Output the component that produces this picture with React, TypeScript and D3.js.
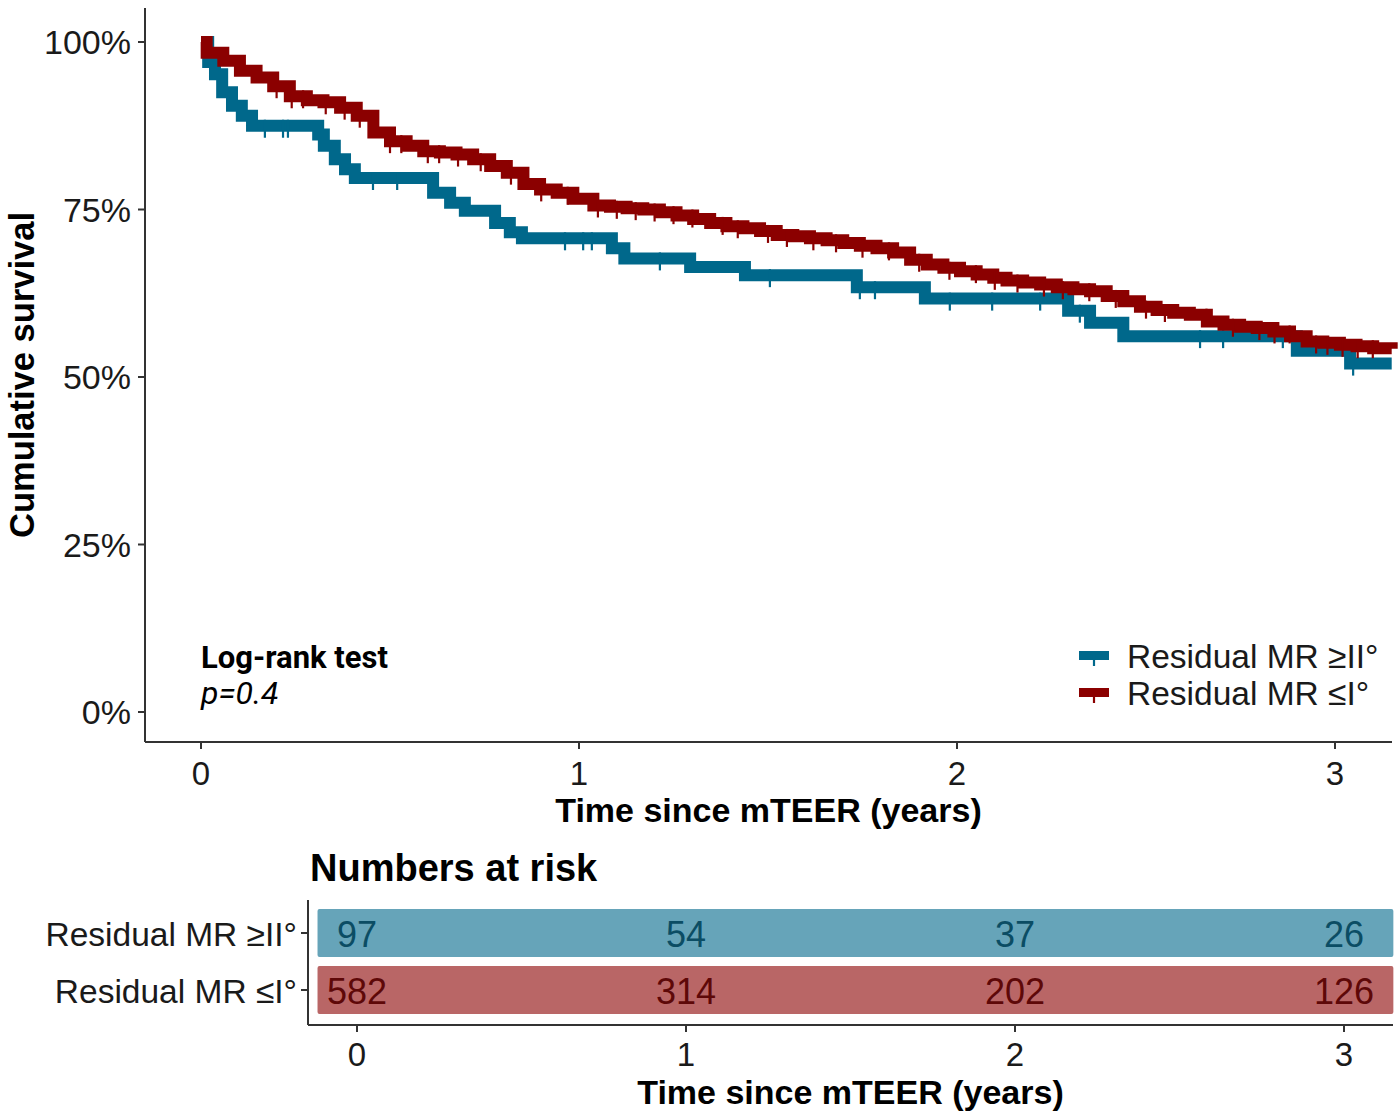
import * as React from "react";
import * as d3 from "d3";

const groups = ["Residual MR ≥II°", "Residual MR ≤I°"];
const colors = ["#00688B", "#8B0000"];
const textColors = ["#0b4d64", "#5e0808"];
const barColors = ["#66a4b9", "#b96666"];

const yTicks = [0, 0.25, 0.5, 0.75, 1];
const xTicks = [0, 1, 2, 3];

// Kaplan-Meier steps: [years, survival]
const stepsHigh: [number, number][] = [
  [0, 1.0], [0.019, 0.97], [0.037, 0.952], [0.056, 0.925], [0.082, 0.905],
  [0.108, 0.89], [0.135, 0.875], [0.31, 0.862], [0.325, 0.845], [0.354, 0.825],
  [0.381, 0.81], [0.407, 0.797], [0.614, 0.775], [0.659, 0.76], [0.698, 0.748],
  [0.778, 0.73], [0.817, 0.716], [0.849, 0.707], [1.087, 0.692], [1.12, 0.677],
  [1.294, 0.664], [1.439, 0.652], [1.735, 0.634], [1.915, 0.617], [2.294, 0.599],
  [2.352, 0.581], [2.44, 0.561], [2.899, 0.539], [3.04, 0.52], [3.15, 0.52],
];

const stepsLow: [number, number][] = [
  [0, 1.0], [0.015, 0.984], [0.059, 0.972], [0.103, 0.957], [0.147, 0.947],
  [0.191, 0.934], [0.235, 0.919], [0.28, 0.913], [0.324, 0.91], [0.368, 0.902],
  [0.412, 0.89], [0.456, 0.865], [0.5, 0.852], [0.544, 0.845], [0.588, 0.837],
  [0.632, 0.835], [0.676, 0.832], [0.72, 0.825], [0.765, 0.815], [0.809, 0.805],
  [0.853, 0.788], [0.897, 0.78], [0.941, 0.775], [0.985, 0.766], [1.038, 0.756],
  [1.082, 0.754], [1.126, 0.752], [1.17, 0.75], [1.214, 0.746], [1.258, 0.741],
  [1.302, 0.736], [1.347, 0.73], [1.39, 0.725], [1.435, 0.722], [1.479, 0.718],
  [1.523, 0.712], [1.567, 0.71], [1.611, 0.707], [1.655, 0.704], [1.699, 0.7],
  [1.743, 0.696], [1.787, 0.692], [1.831, 0.686], [1.876, 0.675], [1.92, 0.668],
  [1.964, 0.663], [2.008, 0.658], [2.052, 0.653], [2.096, 0.648], [2.131, 0.644],
  [2.175, 0.641], [2.22, 0.638], [2.264, 0.634], [2.308, 0.631], [2.352, 0.628],
  [2.396, 0.621], [2.44, 0.613], [2.484, 0.605], [2.528, 0.6], [2.572, 0.596],
  [2.616, 0.593], [2.661, 0.583], [2.705, 0.578], [2.749, 0.575], [2.793, 0.573],
  [2.837, 0.568], [2.881, 0.561], [2.925, 0.553], [2.969, 0.551], [3.013, 0.548],
  [3.057, 0.546], [3.101, 0.543], [3.15, 0.542],
];

// censoring marks (years)
const censorHigh = [
  0.169, 0.217, 0.23, 0.455, 0.519, 0.963, 1.011, 1.034, 1.214, 1.505,
  1.743, 1.783, 1.981, 2.093, 2.22, 2.325, 2.643, 2.704, 2.862, 3.048,
];
const censorLow = [
  0.2, 0.24, 0.27, 0.33, 0.38, 0.42, 0.5, 0.53, 0.6, 0.63, 0.68, 0.74, 0.82,
  0.9, 0.97, 1.05, 1.1, 1.15, 1.2, 1.25, 1.3, 1.38, 1.42, 1.5, 1.55, 1.62,
  1.68, 1.75, 1.82, 1.9, 1.98, 2.05, 2.1, 2.16, 2.23, 2.28, 2.35, 2.42, 2.5,
  2.55, 2.66, 2.73, 2.8, 2.84, 2.88, 2.95, 2.98, 3.02, 3.06, 3.1,
];

const riskHigh = [97, 54, 37, 26];
const riskLow = [582, 314, 202, 126];

const sans = '"Liberation Sans", Arial, sans-serif';
const axisColor = "#333333";

function survivalAt(steps: [number, number][], t: number) {
  let s = steps[0][1];
  for (const [st, sv] of steps) {
    if (st <= t) s = sv;
  }
  return s;
}

export default function App() {
  // main panel
  const plotLeft = 145;
  const plotRight = 1392;
  const plotTop = 8;
  const plotBottom = 742;
  const x = d3.scaleLinear().domain([0, 3]).range([201, 1335]);
  const y = d3.scaleLinear().domain([0, 1]).range([712, 42]);

  // risk table panel
  const rLeft = 308;
  const rRight = 1393;
  const rBottom = 1025;
  const rTop = 900;
  const xr = d3.scaleLinear().domain([0, 3]).range([357, 1344]);
  const yr = d3
    .scaleBand()
    .domain(groups)
    .range([904.5, 1018.5])
    .paddingInner(0.16)
    .paddingOuter(0.08);

  const line = d3
    .line<[number, number]>()
    .x((d) => x(d[0]))
    .y((d) => y(d[1]))
    .curve(d3.curveStepAfter);

  const series = [
    { name: groups[0], steps: stepsHigh, censor: censorHigh, risk: riskHigh },
    { name: groups[1], steps: stepsLow, censor: censorLow, risk: riskLow },
  ];

  return (
    <svg
      width={1400}
      height={1116}
      style={{ position: "absolute", left: 0, top: 0, background: "#fff" }}
    >
      {/* curves */}
      {series.map((s, i) => (
        <g key={s.name}>
          <path
            d={line(s.steps) ?? ""}
            fill="none"
            stroke={colors[i]}
            strokeWidth={12}
          />
          {s.censor.map((c, j) => {
            const cy = y(survivalAt(s.steps, c));
            return (
              <line
                key={j}
                x1={x(c)}
                x2={x(c)}
                y1={cy - 6}
                y2={cy + 12}
                stroke={colors[i]}
                strokeWidth={2.2}
              />
            );
          })}
        </g>
      ))}

      {/* y axis */}
      <line x1={plotLeft} x2={plotLeft} y1={plotTop} y2={plotBottom} stroke={axisColor} strokeWidth={2} />
      {yTicks.map((t) => (
        <g key={t}>
          <line x1={plotLeft - 7} x2={plotLeft} y1={y(t)} y2={y(t)} stroke={axisColor} strokeWidth={2} />
          <text
            x={plotLeft - 14}
            y={y(t)}
            textAnchor="end"
            dominantBaseline="central"
            fontFamily={sans}
            fontSize={34}
            fill="#1a1a1a"
          >
            {d3.format(".0%")(t)}
          </text>
        </g>
      ))}
      <text
        transform={`translate(34, ${(plotTop + plotBottom) / 2}) rotate(-90)`}
        textAnchor="middle"
        fontFamily={sans}
        fontWeight="bold"
        fontSize={34.5}
      >
        Cumulative survival
      </text>

      {/* x axis */}
      <line x1={plotLeft} x2={plotRight} y1={plotBottom} y2={plotBottom} stroke={axisColor} strokeWidth={2} />
      {xTicks.map((t) => (
        <g key={t}>
          <line x1={x(t)} x2={x(t)} y1={plotBottom} y2={plotBottom + 7} stroke={axisColor} strokeWidth={2} />
          <text
            x={x(t)}
            y={plotBottom + 31}
            textAnchor="middle"
            dominantBaseline="central"
            fontFamily={sans}
            fontSize={33}
            fill="#1a1a1a"
          >
            {t}
          </text>
        </g>
      ))}
      <text
        x={(plotLeft + plotRight) / 2}
        y={822}
        textAnchor="middle"
        fontFamily={sans}
        fontWeight="bold"
        fontSize={34}
      >
        Time since mTEER (years)
      </text>

      {/* log-rank annotation */}
      <text x={x(0)} y={668} fontFamily="Roboto, sans-serif" fontWeight="bold" fontSize={31}>
        Log-rank test
      </text>
      <text x={x(0)} y={704} fontFamily="Roboto, sans-serif" fontStyle="italic" fontSize={32}>
        p=0.4
      </text>

      {/* legend */}
      {groups.map((g, i) => {
        const cy = 655 + i * 37;
        return (
          <g key={g}>
            <rect x={1079} y={cy - 4} width={30} height={9} fill={colors[i]} />
            <line x1={1094} x2={1094} y1={cy} y2={cy + 11} stroke={colors[i]} strokeWidth={2.2} />
            <text
              x={1127}
              y={cy + 1}
              dominantBaseline="central"
              fontFamily={sans}
              fontSize={33.5}
              fill="#1a1a1a"
            >
              {g}
            </text>
          </g>
        );
      })}

      {/* numbers at risk */}
      <text x={rLeft + 2} y={881} fontFamily={sans} fontWeight="bold" fontSize={38}>
        Numbers at risk
      </text>
      {series.map((s, i) => (
        <g key={s.name}>
          <rect
            x={xr(-0.12)}
            y={yr(s.name)!}
            width={xr(3.15) - xr(-0.12)}
            height={yr.bandwidth()}
            rx={2}
            fill={barColors[i]}
          />
          {s.risk.map((n, j) => (
            <text
              key={j}
              x={xr(xTicks[j])}
              y={yr(s.name)! + yr.bandwidth() / 2 + 1}
              textAnchor="middle"
              dominantBaseline="central"
              fontFamily={sans}
              fontSize={36}
              fill={textColors[i]}
            >
              {n}
            </text>
          ))}
          <line
            x1={rLeft - 7}
            x2={rLeft}
            y1={yr(s.name)! + yr.bandwidth() / 2}
            y2={yr(s.name)! + yr.bandwidth() / 2}
            stroke={axisColor}
            strokeWidth={2}
          />
          <text
            x={rLeft - 11}
            y={yr(s.name)! + yr.bandwidth() / 2 + 1}
            textAnchor="end"
            dominantBaseline="central"
            fontFamily={sans}
            fontSize={33.5}
            fill="#1a1a1a"
          >
            {s.name}
          </text>
        </g>
      ))}
      <line x1={rLeft} x2={rLeft} y1={rTop} y2={rBottom} stroke={axisColor} strokeWidth={2} />
      <line x1={rLeft} x2={rRight} y1={rBottom} y2={rBottom} stroke={axisColor} strokeWidth={2} />
      {xTicks.map((t) => (
        <g key={t}>
          <line x1={xr(t)} x2={xr(t)} y1={rBottom} y2={rBottom + 7} stroke={axisColor} strokeWidth={2} />
          <text
            x={xr(t)}
            y={rBottom + 29}
            textAnchor="middle"
            dominantBaseline="central"
            fontFamily={sans}
            fontSize={33}
            fill="#1a1a1a"
          >
            {t}
          </text>
        </g>
      ))}
      <text
        x={(rLeft + rRight) / 2}
        y={1104}
        textAnchor="middle"
        fontFamily={sans}
        fontWeight="bold"
        fontSize={34}
      >
        Time since mTEER (years)
      </text>
    </svg>
  );
}
